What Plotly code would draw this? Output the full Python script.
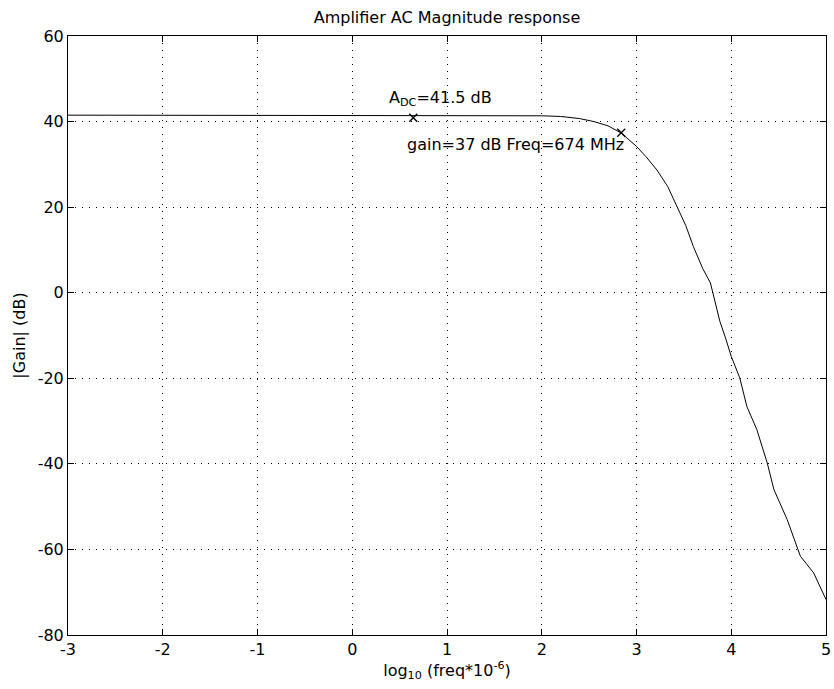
import plotly.graph_objects as go

# data
freq_log = [-3, -2, -1, 0, 1, 1.5, 2.0, 2.2, 2.4, 2.55, 2.7, 2.84, 3.0, 3.1, 3.215,
            3.33, 3.43, 3.52, 3.60, 3.70, 3.78, 3.88, 3.94, 4.0, 4.09, 4.165, 4.27,
            4.34, 4.38, 4.45, 4.59, 4.73, 4.87, 5.0]
gain_db = [41.5, 41.5, 41.5, 41.5, 41.5, 41.45, 41.35, 41.2, 40.7, 40.0, 39.0, 37.3,
           34.2, 31.8, 28.7, 24.8, 20.2, 15.7, 10.8, 5.6, 2.3, -6.7, -10.6, -14.9,
           -19.9, -26.6, -32.0, -36.7, -39.8, -46.0, -53.0, -61.6, -65.5, -71.7]

marker_x = [0.644, 2.839]
marker_y = [40.9, 37.4]
adc_label = "A<sub>DC</sub>=41.5 dB"
f3_label = "gain=37 dB Freq=674 MHz"

x_ticks = [-3, -2, -1, 0, 1, 2, 3, 4, 5]
y_ticks = [-80, -60, -40, -20, 0, 20, 40, 60]

FONT = "DejaVu Sans, Verdana, sans-serif"
FS = 16

fig = go.Figure()
fig.add_trace(go.Scatter(x=freq_log, y=gain_db, mode="lines",
                         line=dict(color="black", width=1), showlegend=False,
                         hoverinfo="skip"))
fig.add_trace(go.Scatter(x=marker_x, y=marker_y, mode="markers",
                         marker=dict(symbol="x-thin", size=8, color="black",
                                     line=dict(color="black", width=1.4)),
                         showlegend=False, hoverinfo="skip"))

fig.add_annotation(x=0.369, y=45.5, xanchor="left", yanchor="middle", text=adc_label,
                   showarrow=False, font=dict(family=FONT, size=FS, color="black"))
fig.add_annotation(x=0.56, y=34.6, xanchor="left", yanchor="middle", text=f3_label,
                   showarrow=False, font=dict(family=FONT, size=FS, color="black"))

axis_common = dict(showline=True, linecolor="black", linewidth=1, mirror="ticks",
                   ticks="inside", ticklen=6, tickcolor="black", automargin=False,
                   ticklabeloverflow="allow",
                   showgrid=True, gridcolor="black", gridwidth=1, griddash="1px,6px",
                   zeroline=False, tickfont=dict(family=FONT, size=FS, color="black"))

fig.update_xaxes(range=[-3, 5], tickvals=x_ticks, ticktext=[str(v) for v in x_ticks],
                 title=dict(text="log<sub>10</sub> (freq*10<sup>-6</sup>)",
                            font=dict(family=FONT, size=FS, color="black"), standoff=2),
                 **axis_common)
fig.update_yaxes(range=[-80, 60], tickvals=y_ticks, ticktext=[str(v) for v in y_ticks],
                 title=dict(text="|Gain| (dB)", font=dict(family=FONT, size=FS, color="black"), standoff=8),
                 **axis_common)

fig.update_layout(width=834, height=689, plot_bgcolor="white", paper_bgcolor="white",
                  margin=dict(l=68, r=8, t=36, b=54, autoexpand=False),
                  title=dict(text="Amplifier AC Magnitude response", x=447 / 834, xanchor="center",
                             y=1 - 17 / 689, yanchor="middle",
                             font=dict(family=FONT, size=FS, color="black")),
                  font=dict(family=FONT, color="black"))

# remove the default 8px page margin so the figure sits at the window's corner
fig.write_html("out.html", config={"displayModeBar": False},
               post_script="document.body.style.margin='0';document.body.style.overflow='hidden';")
